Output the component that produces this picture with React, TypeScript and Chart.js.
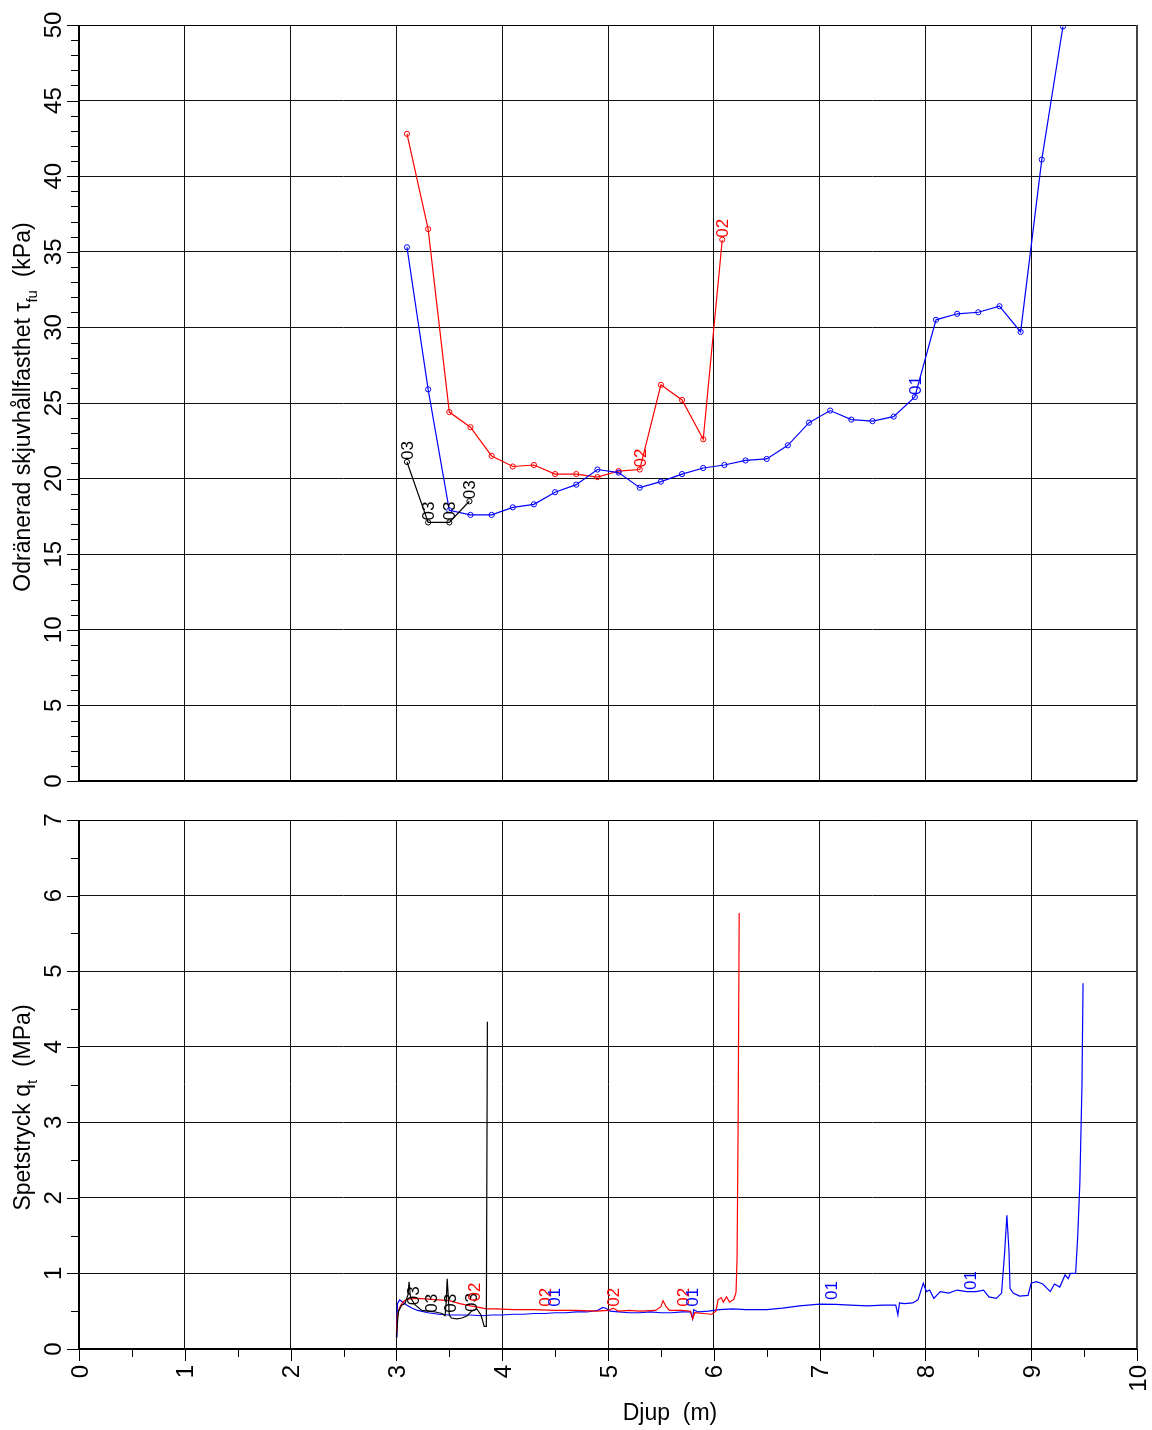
import React, { useEffect, useRef } from 'react';
import { Chart, registerables } from 'chart.js';

Chart.register(...registerables);

const FONT = '"Liberation Sans", Arial, Helvetica, sans-serif';
const BLUE = '#0000ff';
const RED = '#ff0000';
const BLACK = '#000000';

// ---------- Top panel: undrained shear strength (kPa) vs depth (m) ----------
const vaneDepth01 = [3.1, 3.3, 3.5, 3.7, 3.9, 4.1, 4.3, 4.5, 4.7, 4.9, 5.1, 5.3, 5.5, 5.7, 5.9, 6.1, 6.3, 6.5, 6.7, 6.9, 7.1, 7.3, 7.5, 7.7, 7.9, 8.1, 8.3, 8.5, 8.7, 8.9, 9.1, 9.3];
const vaneTau01 = [35.3, 25.9, 17.9, 17.6, 17.6, 18.1, 18.3, 19.1, 19.6, 20.6, 20.4, 19.4, 19.8, 20.3, 20.7, 20.9, 21.2, 21.3, 22.2, 23.7, 24.5, 23.9, 23.8, 24.1, 25.4, 30.5, 30.9, 31.0, 31.4, 29.7, 41.1, 49.9];
const vaneDepth02 = [3.1, 3.3, 3.5, 3.7, 3.9, 4.1, 4.3, 4.5, 4.7, 4.9, 5.1, 5.3, 5.5, 5.7, 5.9, 6.08];
const vaneTau02 = [42.8, 36.5, 24.4, 23.4, 21.5, 20.8, 20.9, 20.3, 20.3, 20.1, 20.5, 20.6, 26.2, 25.2, 22.6, 35.8];
const vaneDepth03 = [3.1, 3.3, 3.5, 3.69];
const vaneTau03 = [21.1, 17.1, 17.1, 18.5];

const topLabelText = ['03', '03', '03', '03', '02', '02', '01'];
const topLabelDepth = [3.1, 3.3, 3.5, 3.69, 5.3, 6.08, 7.9];
const topLabelValue = [21.1, 17.1, 17.1, 18.5, 20.6, 35.8, 25.4];

const topYTicks = ['0', '5', '10', '15', '20', '25', '30', '35', '40', '45', '50'];

// ---------- Bottom panel: cone resistance qt (MPa) vs depth (m) ----------
const qtDepth01 = [3.0, 3.005, 3.01, 3.03, 3.06, 3.1, 3.15, 3.2, 3.3, 3.4, 3.5, 3.6, 3.7, 3.8, 3.9, 4.0, 4.1, 4.2, 4.3, 4.4, 4.5, 4.6, 4.7, 4.8, 4.9, 4.95, 4.98, 5.02, 5.1, 5.2, 5.3, 5.4, 5.5, 5.6, 5.7, 5.78, 5.8, 5.81, 5.85, 5.95, 6.05, 6.18, 6.3, 6.5, 6.65, 6.81, 7.0, 7.15, 7.29, 7.45, 7.6, 7.72, 7.74, 7.755, 7.8, 7.88, 7.93, 7.98, 8.01, 8.04, 8.08, 8.14, 8.22, 8.3, 8.39, 8.48, 8.55, 8.6, 8.67, 8.72, 8.75, 8.77, 8.79, 8.8, 8.83, 8.89, 8.97, 9.0, 9.05, 9.11, 9.18, 9.22, 9.27, 9.32, 9.35, 9.37, 9.42, 9.44, 9.46, 9.48, 9.49];
const qtValue01 = [0.16, 0.4, 0.6, 0.65, 0.62, 0.58, 0.54, 0.51, 0.48, 0.46, 0.45, 0.45, 0.45, 0.44, 0.45, 0.45, 0.46, 0.46, 0.47, 0.47, 0.48, 0.48, 0.49, 0.49, 0.51, 0.55, 0.54, 0.5, 0.49, 0.48, 0.48, 0.49, 0.48, 0.48, 0.49, 0.49, 0.4, 0.52, 0.49, 0.5, 0.52, 0.53, 0.52, 0.52, 0.54, 0.57, 0.595, 0.59, 0.58, 0.57, 0.58, 0.58, 0.45, 0.61, 0.6, 0.61, 0.65, 0.87, 0.76, 0.78, 0.67, 0.76, 0.74, 0.78, 0.76, 0.76, 0.78, 0.69, 0.67, 0.74, 1.3, 1.77, 1.3, 0.8, 0.74, 0.7, 0.71, 0.87, 0.89, 0.86, 0.76, 0.86, 0.82, 0.98, 0.93, 1.0, 1.0, 1.5, 2.2, 3.5, 4.84];

const qtDepth02 = [3.0, 3.01, 3.03, 3.06, 3.1, 3.2, 3.3, 3.4, 3.5, 3.6, 3.7, 3.78, 3.85, 3.95, 4.1, 4.3, 4.5, 4.7, 4.9, 5.0, 5.05, 5.1, 5.2, 5.3, 5.45, 5.5, 5.52, 5.55, 5.58, 5.7, 5.78, 5.8, 5.82, 5.9, 5.98, 6.02, 6.04, 6.07, 6.09, 6.12, 6.15, 6.19, 6.21, 6.22, 6.23, 6.24];
const qtValue02 = [0.18, 0.45, 0.55, 0.62, 0.66, 0.67, 0.66, 0.65, 0.64, 0.6, 0.57, 0.55, 0.53, 0.53, 0.52, 0.52, 0.51, 0.51, 0.5, 0.51, 0.54, 0.5, 0.51, 0.5, 0.51, 0.56, 0.64, 0.56, 0.51, 0.51, 0.5, 0.4, 0.48, 0.47, 0.46, 0.5, 0.65, 0.68, 0.62, 0.69, 0.62, 0.66, 0.75, 1.2, 3.0, 5.77];

const qtDepth03 = [3.0, 3.01, 3.02, 3.05, 3.08, 3.11, 3.12, 3.13, 3.14, 3.18, 3.24, 3.3, 3.37, 3.43, 3.46, 3.47, 3.48, 3.49, 3.5, 3.52, 3.57, 3.62, 3.67, 3.71, 3.76, 3.8, 3.83, 3.85, 3.86];
const qtValue03 = [0.15, 0.35, 0.5, 0.58, 0.6, 0.72, 0.89, 0.72, 0.66, 0.58, 0.51, 0.5, 0.49, 0.47, 0.44, 0.6, 0.93, 0.7, 0.45, 0.41, 0.4, 0.41, 0.44, 0.5, 0.53, 0.45, 0.3, 0.3, 4.33];

const botLabelText = ['03', '03', '03', '03', '02', '02', '02', '02', '01', '01', '01', '01'];
const botLabelDepth = [3.16, 3.33, 3.51, 3.7, 3.73, 4.4, 5.05, 5.71, 4.49, 5.79, 7.11, 8.42];
const botLabelValue = [0.58, 0.48, 0.48, 0.49, 0.63, 0.56, 0.56, 0.56, 0.56, 0.56, 0.65, 0.78];

const botYTicks = ['0', '1', '2', '3', '4', '5', '6', '7'];
const xTicks = ['0', '1', '2', '3', '4', '5', '6', '7', '8', '9', '10'];

const seriesColor: Record<string, string> = { '01': BLUE, '02': RED, '03': BLACK };

function pts(xs: number[], ys: number[]) {
  return xs.map((x, i) => ({ x, y: ys[i] }));
}

type Part = { text: string; size: number; dy: number };

function drawRich(ctx: CanvasRenderingContext2D, parts: Part[], cx: number, cy: number, vertical: boolean) {
  const widths = parts.map((p) => {
    ctx.font = `${p.size}px ${FONT}`;
    return ctx.measureText(p.text).width;
  });
  const total = widths.reduce((a, b) => a + b, 0);
  ctx.save();
  ctx.translate(cx, cy);
  if (vertical) ctx.rotate(-Math.PI / 2);
  ctx.textAlign = 'left';
  ctx.textBaseline = 'alphabetic';
  ctx.fillStyle = '#000';
  let x = -total / 2;
  parts.forEach((p, i) => {
    ctx.font = `${p.size}px ${FONT}`;
    ctx.fillText(p.text, x, p.dy);
    x += widths[i];
  });
  ctx.restore();
}

const decorPlugin = {
  id: 'decor',
  afterDraw(chart: any, _args: any, o: any) {
    const ctx: CanvasRenderingContext2D = chart.ctx;
    const { left, right, top, bottom } = chart.chartArea;
    const xs = chart.scales.x;
    const ys = chart.scales.y;
    ctx.save();

    // series labels
    const lblSize = 17;
    ctx.font = `${lblSize}px ${FONT}`;
    for (let i = 0; i < o.labelText.length; i++) {
      const px = xs.getPixelForValue(o.labelDepth[i]);
      const py = ys.getPixelForValue(o.labelValue[i]) - o.labelGap;
      ctx.save();
      ctx.translate(px, py);
      ctx.rotate(-Math.PI / 2);
      ctx.fillStyle = seriesColor[o.labelText[i]];
      ctx.textAlign = 'left';
      ctx.textBaseline = 'alphabetic';
      ctx.fillText(o.labelText[i], 0, lblSize * 0.358);
      ctx.restore();
    }

    // frame
    ctx.strokeStyle = '#000';
    ctx.lineWidth = 1;
    ctx.beginPath();
    ctx.moveTo(left, Math.round(top) + 0.5);
    ctx.lineTo(right, Math.round(top) + 0.5);
    ctx.stroke();
    ctx.strokeStyle = '#444';
    ctx.lineWidth = 2;
    ctx.beginPath();
    ctx.moveTo(right, top);
    ctx.lineTo(right, bottom);
    ctx.stroke();
    ctx.strokeStyle = '#000';
    ctx.lineWidth = 2;
    ctx.beginPath();
    ctx.moveTo(left, top);
    ctx.lineTo(left, bottom);
    ctx.lineTo(right, bottom);
    ctx.stroke();

    // y tick marks
    ctx.lineWidth = 1;
    const nMinor = Math.round((ys.max - ys.min) / o.yMinor);
    for (let i = 0; i <= nMinor; i++) {
      const v = ys.min + i * o.yMinor;
      const r = v / o.yMajor;
      const major = Math.abs(r - Math.round(r)) < 1e-6;
      const py = Math.round(ys.getPixelForValue(v)) + 0.5;
      ctx.beginPath();
      ctx.moveTo(left - (major ? 12 : 8), py);
      ctx.lineTo(left, py);
      ctx.stroke();
    }

    // y tick labels
    const tickSize = 24;
    ctx.fillStyle = '#000';
    ctx.font = `${tickSize}px ${FONT}`;
    for (const t of o.yTicks) {
      const py = ys.getPixelForValue(Number(t));
      ctx.save();
      ctx.translate(left - 18, py);
      ctx.rotate(-Math.PI / 2);
      ctx.textAlign = 'center';
      ctx.textBaseline = 'alphabetic';
      ctx.fillText(t, 0, 0);
      ctx.restore();
    }

    // x ticks and labels
    if (o.xTicks) {
      const nx = Math.round((xs.max - xs.min) / 0.5);
      for (let i = 0; i <= nx; i++) {
        const v = xs.min + i * 0.5;
        const major = Math.abs(v - Math.round(v)) < 1e-6;
        const px = Math.round(xs.getPixelForValue(v)) + 0.5;
        ctx.beginPath();
        ctx.moveTo(px, bottom);
        ctx.lineTo(px, bottom + (major ? 12 : 8));
        ctx.stroke();
      }
      for (const t of o.xTicks) {
        const px = xs.getPixelForValue(Number(t));
        ctx.save();
        ctx.translate(px, bottom + 16);
        ctx.rotate(-Math.PI / 2);
        ctx.textAlign = 'right';
        ctx.textBaseline = 'alphabetic';
        ctx.fillText(t, 0, tickSize * 0.358);
        ctx.restore();
      }
    }

    // titles
    drawRich(ctx, o.yTitle, 30, (top + bottom) / 2 + o.yTitleShift, true);
    if (o.xTitle) {
      drawRich(ctx, o.xTitle, (left + right) / 2 + 62, bottom + 71, false);
    }
    ctx.restore();
  },
};

function baseScales(yMax: number, yStep: number) {
  return {
    x: {
      type: 'linear',
      min: 0,
      max: 10,
      ticks: { display: false, stepSize: 1 },
      grid: { color: '#111', lineWidth: 1, drawTicks: false },
      border: { display: false },
      afterFit: (s: any) => {
        s.height = 0;
      },
    },
    y: {
      type: 'linear',
      min: 0,
      max: yMax,
      ticks: { display: false, stepSize: yStep },
      grid: { color: '#111', lineWidth: 1, drawTicks: false },
      border: { display: false },
      afterFit: (s: any) => {
        s.width = 0;
      },
    },
  };
}

function topConfig(): any {
  const mk = (label: string, xs: number[], ys: number[], c: string) => ({
    label,
    data: pts(xs, ys),
    borderColor: c,
    borderWidth: 1.2,
    pointRadius: 2.6,
    pointBorderWidth: 1,
    pointBorderColor: c,
    pointBackgroundColor: 'rgba(0,0,0,0)',
    fill: false,
    tension: 0,
  });
  return {
    type: 'line',
    data: {
      datasets: [
        mk('03', vaneDepth03, vaneTau03, BLACK),
        mk('01', vaneDepth01, vaneTau01, BLUE),
        mk('02', vaneDepth02, vaneTau02, RED),
      ],
    },
    options: {
      animation: false,
      responsive: false,
      devicePixelRatio: 1,
      events: [],
      layout: { padding: { left: 79, right: 15, top: 25, bottom: 19 } },
      plugins: {
        legend: { display: false },
        tooltip: { enabled: false },
        decor: {
          labelText: topLabelText,
          labelDepth: topLabelDepth,
          labelValue: topLabelValue,
          labelGap: 2,
          yMinor: 1,
          yMajor: 5,
          yTicks: topYTicks,
          xTicks: null,
          yTitle: [
            { text: 'Odränerad skjuvhållfasthet τ', size: 23, dy: 0 },
            { text: 'fu', size: 15, dy: 7 },
            { text: '  (kPa)', size: 23, dy: 0 },
          ],
          yTitleShift: 4,
          xTitle: null,
        },
      },
      scales: baseScales(50, 5),
    },
    plugins: [decorPlugin],
  };
}

function bottomConfig(): any {
  const mk = (label: string, xs: number[], ys: number[], c: string) => ({
    label,
    data: pts(xs, ys),
    borderColor: c,
    borderWidth: 1.2,
    pointRadius: 0,
    fill: false,
    tension: 0,
  });
  return {
    type: 'line',
    data: {
      datasets: [
        mk('03', qtDepth03, qtValue03, BLACK),
        mk('02', qtDepth02, qtValue02, RED),
        mk('01', qtDepth01, qtValue01, BLUE),
      ],
    },
    options: {
      animation: false,
      responsive: false,
      devicePixelRatio: 1,
      events: [],
      layout: { padding: { left: 79, right: 15, top: 20, bottom: 81 } },
      plugins: {
        legend: { display: false },
        tooltip: { enabled: false },
        decor: {
          labelText: botLabelText,
          labelDepth: botLabelDepth,
          labelValue: botLabelValue,
          labelGap: 0,
          yMinor: 0.5,
          yMajor: 1,
          yTicks: botYTicks,
          xTicks: xTicks,
          yTitle: [
            { text: 'Spetstryck q', size: 23, dy: 0 },
            { text: 't', size: 15, dy: 7 },
            { text: '  (MPa)', size: 23, dy: 0 },
          ],
          yTitleShift: 23,
          xTitle: [{ text: 'Djup  (m)', size: 23, dy: 0 }],
        },
      },
      scales: baseScales(7, 1),
    },
    plugins: [decorPlugin],
  };
}

function Panel({ make, top, height }: { make: () => any; top: number; height: number }) {
  const ref = useRef<HTMLCanvasElement>(null);
  useEffect(() => {
    const chart = new Chart(ref.current as HTMLCanvasElement, make());
    return () => chart.destroy();
  }, []);
  return (
    <canvas
      ref={ref}
      width={1152}
      height={height}
      style={{ position: 'absolute', left: 0, top, width: 1152, height, display: 'block' }}
    />
  );
}

export default function App() {
  return (
    <div style={{ position: 'absolute', left: 0, top: 0, width: 1152, height: 1430, background: '#fff' }}>
      <Panel make={topConfig} top={0} height={800} />
      <Panel make={bottomConfig} top={800} height={630} />
    </div>
  );
}
